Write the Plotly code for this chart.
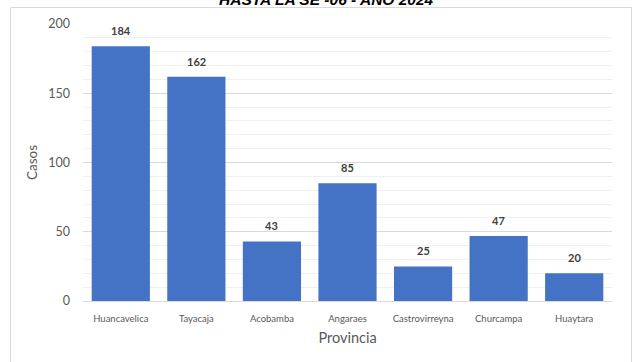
import plotly.graph_objects as go

# Casos por provincia
provincias = ["Huancavelica", "Tayacaja", "Acobamba", "Angaraes",
              "Castrovirreyna", "Churcampa", "Huaytara"]
casos = [184, 162, 43, 85, 25, 47, 20]

titulo = "<b><i>HASTA LA SE -06 - AÑO 2024</i></b>"

FONT = "Lato"
GRAY = "#595959"

W, H = 638, 362
L, R, T, B = 83, 26, 24, 61
pw, ph = W - L - R, H - T - B


def px_x(x):
    return (x - L) / pw


def px_y(y):
    return (H - B - y) / ph


fig = go.Figure(go.Bar(
    x=provincias, y=casos,
    marker=dict(color="#4472C4", line=dict(width=0)),
    hoverinfo="x+y",
))

# etiquetas de valor sobre cada barra
for p, c in zip(provincias, casos):
    fig.add_annotation(
        x=p, y=c, text=f"<b>{c}</b>", showarrow=False,
        yanchor="bottom", yshift=7,
        font=dict(family=FONT, size=11, color="#404040"),
    )

# título (la parte superior queda sobre el borde del lienzo)
fig.add_annotation(
    xref="paper", yref="paper", x=px_x(326), y=px_y(-1),
    text=titulo, showarrow=False, xanchor="center", yanchor="middle",
    font=dict(family="Liberation Sans", size=15.5, color="#000000"),
)

# marco del gráfico
fig.add_shape(
    type="rect", xref="paper", yref="paper",
    x0=px_x(10.5), x1=px_x(631.5), y0=px_y(380), y1=px_y(7.5),
    line=dict(color="#d9d9d9", width=1), fillcolor="rgba(0,0,0,0)",
    layer="below",
)

fig.update_layout(
    width=W, height=H,
    margin=dict(l=L, r=R, t=T, b=B, autoexpand=False),
    paper_bgcolor="white", plot_bgcolor="white",
    bargap=0.23, showlegend=False,
    font=dict(family=FONT, color=GRAY),
)

fig.update_xaxes(
    title=dict(text="Provincia", font=dict(size=14.5, color=GRAY), standoff=9),
    tickfont=dict(size=9.5, color=GRAY),
    showline=True, linecolor="#d9d9d9", linewidth=1,
    ticks="", ticklabelstandoff=9,
)

fig.update_yaxes(
    title=dict(text="Casos", font=dict(size=13.5, color=GRAY), standoff=7),
    range=[0, 200], dtick=50, tick0=0,
    tickfont=dict(size=12.5, color=GRAY),
    showgrid=True, gridcolor="#d9d9d9", gridwidth=1,
    minor=dict(dtick=10, showgrid=True, gridcolor="#f0f0f0", gridwidth=1),
    zeroline=False, showline=False, ticks="", ticklabelstandoff=12,
)

fig.write_html("out.html")
